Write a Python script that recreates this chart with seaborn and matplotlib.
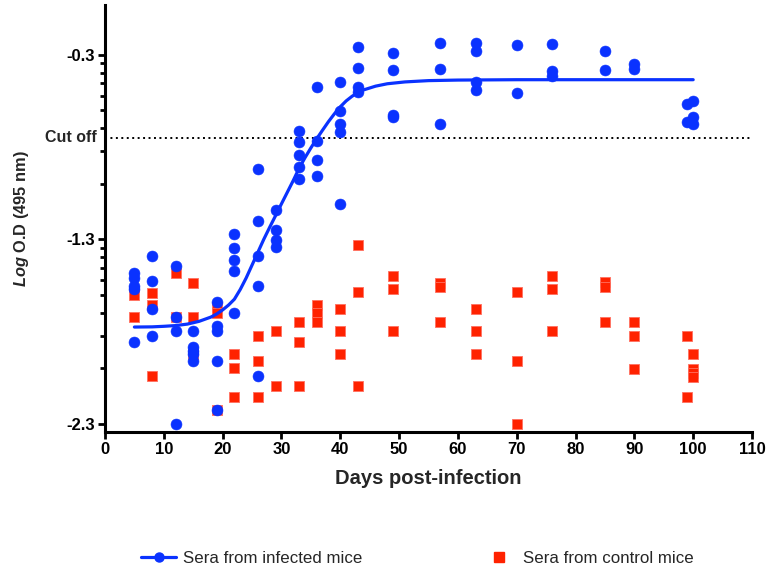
import numpy as np
import pandas as pd
import matplotlib
matplotlib.use("Agg")
import matplotlib.pyplot as plt
import seaborn as sns
from matplotlib.lines import Line2D

# ---------------- data ----------------
infected_days = (
    [5] * 5 + [8] * 4 + [12] * 4 + [15] * 5 + [19] * 5 + [22] * 5 + [26] * 5 +
    [29] * 4 + [33] * 5 + [36] * 4 + [40] * 5 + [43] * 4 + [49] * 4 + [57] * 3 +
    [63] * 4 + [70] * 2 + [76] * 3 + [85] * 2 + [90] * 2 + [99] * 2 + [100] * 3
)
infected_vals = [
    -1.482, -1.509, -1.554, -1.572, -1.855,
    -1.390, -1.525, -1.680, -1.824,
    -1.446, -1.723, -1.797, -2.300,
    -1.797, -1.885, -1.904, -1.922, -1.958,
    -1.642, -1.770, -1.797, -1.959, -2.224,
    -1.273, -1.350, -1.414, -1.471, -1.702,
    -0.918, -1.203, -1.390, -1.552, -2.044,
    -1.143, -1.251, -1.302, -1.342,
    -0.715, -0.774, -0.842, -0.909, -0.972,
    -0.473, -0.765, -0.873, -0.956,
    -0.446, -0.606, -0.675, -0.720, -1.111,
    -0.257, -0.372, -0.473, -0.504,
    -0.288, -0.383, -0.624, -0.639,
    -0.237, -0.377, -0.675,
    -0.237, -0.278, -0.450, -0.489,
    -0.246, -0.507,
    -0.242, -0.386, -0.414,
    -0.278, -0.383,
    -0.350, -0.377,
    -0.567, -0.662,
    -0.549, -0.639, -0.675,
]

control_days = (
    [5] * 2 + [8] * 3 + [12] * 2 + [15] * 3 + [19] * 3 + [22] * 3 + [26] * 3 +
    [29] * 2 + [33] * 3 + [36] * 3 + [40] * 3 + [43] * 3 + [49] * 3 + [57] * 3 +
    [63] * 3 + [70] * 3 + [76] * 3 + [85] * 3 + [90] * 3 + [99] * 2 + [100] * 4
)
control_vals = [
    -1.603, -1.723,
    -1.590, -1.657, -2.044,
    -1.482, -1.723,
    -1.539, -1.723, -1.922,
    -1.666, -1.698, -2.224,
    -1.922, -1.999, -2.156,
    -1.824, -1.958, -2.156,
    -1.796, -2.098,
    -1.747, -1.855, -2.098,
    -1.657, -1.700, -1.749,
    -1.678, -1.797, -1.922,
    -1.332, -1.588, -2.098,
    -1.498, -1.570, -1.797,
    -1.536, -1.559, -1.747,
    -1.680, -1.797, -1.922,
    -1.588, -1.959, -2.300,
    -1.498, -1.570, -1.797,
    -1.534, -1.558, -1.747,
    -1.747, -1.824, -2.001,
    -1.824, -2.156,
    -1.922, -2.003, -2.024, -2.046,
]

# fitted curve for infected mice
curve_days = [5, 8, 10, 12, 14, 16, 18, 19, 20, 21, 22, 23, 24, 25, 26, 27,
              28, 29, 30, 31, 32, 33, 34, 35, 36, 37, 38, 39, 40, 41, 42, 43,
              44, 46, 48, 51, 55, 60, 70, 100]
curve_vals = [-1.776, -1.775, -1.772, -1.768, -1.760, -1.745, -1.722, -1.705,
              -1.683, -1.657, -1.625, -1.572, -1.510, -1.440, -1.370, -1.300,
              -1.235, -1.172, -1.108, -1.045, -0.982, -0.915, -0.858, -0.805,
              -0.755, -0.708, -0.662, -0.620, -0.582, -0.550, -0.525, -0.505,
              -0.490, -0.470, -0.457, -0.447, -0.440, -0.437, -0.435, -0.435]

cutoff_value = -0.75
major_ticks = [-2.3, -1.3, -0.3]
major_labels = ["-2.3", "-1.3", "-0.3"]

# ---------------- styling ----------------
sns.set_style("ticks")
plt.rcParams["font.family"] = ["Liberation Sans", "DejaVu Sans"]
plt.rcParams["mathtext.fontset"] = "custom"
plt.rcParams["mathtext.it"] = "Liberation Sans:italic:bold"
plt.rcParams["mathtext.rm"] = "Liberation Sans:bold"

blue = "#0a32ff"
red = "#ff2200"

fig = plt.figure(figsize=(7.68, 5.66), dpi=100)
ax = fig.add_axes([105 / 768, 1 - 432 / 566, (752 - 105) / 768, (432 - 5) / 566])

inf_df = pd.DataFrame({"day": infected_days, "val": infected_vals})
ctl_df = pd.DataFrame({"day": control_days, "val": control_vals})
curve_df = pd.DataFrame({"day": curve_days, "val": curve_vals})

sns.scatterplot(data=ctl_df, x="day", y="val", marker="s", s=52, color=red,
                edgecolor="#ff7060", linewidth=0.6, ax=ax, zorder=3, legend=False)
sns.scatterplot(data=inf_df, x="day", y="val", marker="o", s=62, color=blue,
                edgecolor=blue, linewidth=0.4, ax=ax, zorder=4, legend=False)
sns.lineplot(data=curve_df, x="day", y="val", color=blue, linewidth=2.3,
             ax=ax, zorder=5, legend=False, estimator=None, sort=True)

ax.axhline(cutoff_value, color="black", linestyle=(0, (1, 1.8)), linewidth=1.4,
           zorder=2)
ax.text(-0.012, cutoff_value, "Cut off", transform=ax.get_yaxis_transform(),
        ha="right", va="center", fontsize=11.5, fontweight="bold")

ax.set_xlim(0, 110)
ax.set_ylim(-2.345, -0.03)
ax.set_xticks(np.arange(0, 111, 10))
ax.set_xticklabels([str(v) for v in range(0, 111, 10)], fontsize=12,
                   fontweight="bold")
ax.set_yticks(major_ticks)
ax.set_yticklabels(major_labels, fontsize=12, fontweight="bold")
minor = []
for base in [-2.3, -1.3]:
    for k in range(2, 10):
        minor.append(base + np.log10(k))
ax.set_yticks(minor, minor=True)

for s in ["top", "right"]:
    ax.spines[s].set_visible(False)
for s in ["left", "bottom"]:
    ax.spines[s].set_linewidth(2.2)
    ax.spines[s].set_color("black")
ax.tick_params(axis="both", which="major", length=5, width=2.0, pad=2,
               color="black", labelcolor="black")
ax.tick_params(axis="y", which="minor", length=3.5, width=2.0, color="black")

ax.set_xlabel("Days post-infection", fontsize=14.5, fontweight="bold", labelpad=9)
ax.set_ylabel(r"$\mathit{Log}$ O.D (495 nm)", fontsize=11.8, fontweight="bold",
              labelpad=26)

h1 = Line2D([0], [0], color=blue, linewidth=2.3, marker="o", markersize=6.5)
h2 = Line2D([0], [0], color=red, linestyle="none", marker="s", markersize=7)
fig.legend([h1, h2], ["Sera from infected mice", "Sera from control mice"],
           loc="lower left", bbox_to_anchor=(126 / 768, -0.027), ncol=2,
           frameon=False, fontsize=12.2, handlelength=2.07, columnspacing=7.0,
           handletextpad=0.4)

fig.savefig("out.png", dpi=100)
